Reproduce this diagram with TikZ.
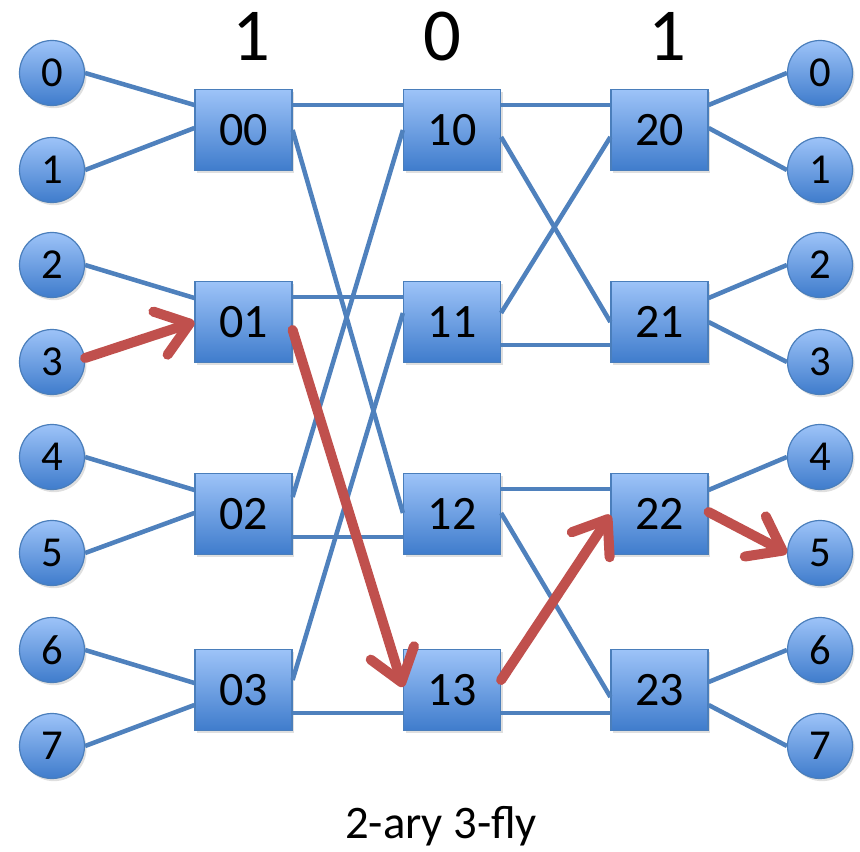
\documentclass[tikz,border=0pt]{standalone}
\usepackage{fontspec}
\setmainfont{Carlito}
\usetikzlibrary{arrows.meta, shadows, calc}
\definecolor{linkblue}{HTML}{4F81BD}
\definecolor{edgeblue}{HTML}{4A7EBB}
\definecolor{filltop}{HTML}{9DC3F8}
\definecolor{fillbot}{HTML}{3F7CCC}
\definecolor{routered}{HTML}{C0504D}

\begin{document}
\begin{tikzpicture}[
  x=0.75pt, y=-0.75pt,
  switch/.style = {rectangle, draw=edgeblue, line width=0.9pt,
                   top color=filltop, bottom color=fillbot,
                   minimum width=72.75pt, minimum height=60.75pt, inner sep=0pt,
                   font=\fontsize{36}{36}\selectfont,
                   drop shadow={opacity=0.25, shadow xshift=1.5pt, shadow yshift=-2pt}},
  term/.style   = {circle, draw=edgeblue, line width=0.9pt,
                   top color=filltop, bottom color=fillbot,
                   minimum size=48.75pt, inner sep=0pt,
                   font=\fontsize{32}{32}\selectfont,
                   drop shadow={opacity=0.25, shadow xshift=1.5pt, shadow yshift=-2pt}},
  link/.style   = {line width=3.4pt, color=linkblue},
  route/.style  = {line width=7.5pt, color=routered, line cap=round,
                   -{Straight Barb[length=23pt, width=34pt, line cap=round, line join=round]}},
  digit/.style  = {anchor=base, font=\fontsize{56}{56}\selectfont},
]
\useasboundingbox (0,0) rectangle (860,852);

% Input terminals
\node[term] (i0) at (52,73)  {0};
\node[term] (i1) at (52,170) {1};
\node[term] (i2) at (52,265) {2};
\node[term] (i3) at (52,362) {3};
\node[term] (i4) at (52,457) {4};
\node[term] (i5) at (52,553) {5};
\node[term] (i6) at (52,650) {6};
\node[term] (i7) at (52,746) {7};

% Output terminals
\node[term] (o0) at (820,73)  {0};
\node[term] (o1) at (820,170) {1};
\node[term] (o2) at (820,265) {2};
\node[term] (o3) at (820,362) {3};
\node[term] (o4) at (820,457) {4};
\node[term] (o5) at (820,553) {5};
\node[term] (o6) at (820,650) {6};
\node[term] (o7) at (820,746) {7};

% Switches
\node[switch] (b00) at (243.5,130) {00};
\node[switch] (b01) at (243.5,322) {01};
\node[switch] (b02) at (243.5,514) {02};
\node[switch] (b03) at (243.5,690) {03};
\node[switch] (b10) at (452,130)   {10};
\node[switch] (b11) at (452,322)   {11};
\node[switch] (b12) at (452,514)   {12};
\node[switch] (b13) at (452,690)   {13};
\node[switch] (b20) at (659.5,130) {20};
\node[switch] (b21) at (659.5,322) {21};
\node[switch] (b22) at (659.5,514) {22};
\node[switch] (b23) at (659.5,690) {23};

% Inputs to stage 0
\draw[link] (i0.east) -- ($(b00.west)+(0,-25)$);
\draw[link] (i1.east) -- ($(b00.west)+(0,-2)$);
\draw[link] (i2.east) -- ($(b01.west)+(0,-24)$);
\draw[link] (i4.east) -- ($(b02.west)+(0,-24)$);
\draw[link] (i5.east) -- ($(b02.west)+(0,-1)$);
\draw[link] (i6.east) -- ($(b03.west)+(0,-7)$);
\draw[link] (i7.east) -- ($(b03.west)+(0,15)$);

% Stage 0 to stage 1
\draw[link] ($(b00.east)+(0,-25)$) -- ($(b10.west)+(0,-25)$);
\draw[link] ($(b00.east)+(0,0)$)   -- ($(b12.west)+(0,-1)$);
\draw[link] ($(b01.east)+(0,-25)$) -- ($(b11.west)+(0,-25)$);
\draw[link] ($(b02.east)+(0,-17)$) -- ($(b10.west)+(0,0)$);
\draw[link] ($(b02.east)+(0,23)$)  -- ($(b12.west)+(0,23)$);
\draw[link] ($(b03.east)+(0,-10)$) -- ($(b11.west)+(0,-9)$);
\draw[link] ($(b03.east)+(0,23)$)  -- ($(b13.west)+(0,23)$);

% Stage 1 to stage 2
\draw[link] ($(b10.east)+(0,-25)$) -- ($(b20.west)+(0,-25)$);
\draw[link] ($(b10.east)+(0,7)$)   -- ($(b21.west)+(0,0)$);
\draw[link] ($(b11.east)+(0,-9)$)  -- ($(b20.west)+(0,7)$);
\draw[link] ($(b11.east)+(0,23)$)  -- ($(b21.west)+(0,23)$);
\draw[link] ($(b12.east)+(0,-25)$) -- ($(b22.west)+(0,-25)$);
\draw[link] ($(b12.east)+(0,-1)$)  -- ($(b23.west)+(0,7)$);
\draw[link] ($(b13.east)+(0,23)$)  -- ($(b23.west)+(0,23)$);

% Stage 2 to outputs
\draw[link] ($(b20.east)+(0,-25)$) -- (o0.west);
\draw[link] ($(b20.east)+(0,-2)$)  -- (o1.west);
\draw[link] ($(b21.east)+(0,-24)$) -- (o2.west);
\draw[link] ($(b21.east)+(0,0)$)   -- (o3.west);
\draw[link] ($(b22.east)+(0,-24)$) -- (o4.west);
\draw[link] ($(b23.east)+(0,-8)$)  -- (o6.west);
\draw[link] ($(b23.east)+(0,15)$)  -- (o7.west);

% Route 3 -> 5
\draw[route] ($(i3.east)+(0,-4)$)  -- ($(b01.west)+(0,0)$);
\draw[route] ($(b01.east)+(0,8)$)  -- ($(b13.west)+(0,-3)$);
\draw[route] ($(b13.east)+(0,-10)$) -- ($(b22.west)+(0,1)$);
\draw[route] ($(b22.east)+(0,-2)$) -- (o5.west);

% Address bits
\node[digit] (bit0) at (251,61) {1};
\node[digit] (bit1) at (442,61) {0};
\node[digit] (bit2) at (667,61) {1};

% Caption
\node[anchor=base, font=\fontsize{35}{35}\selectfont] (title) at (441,838) {2-ary 3-fly};
\end{tikzpicture}
\end{document}
